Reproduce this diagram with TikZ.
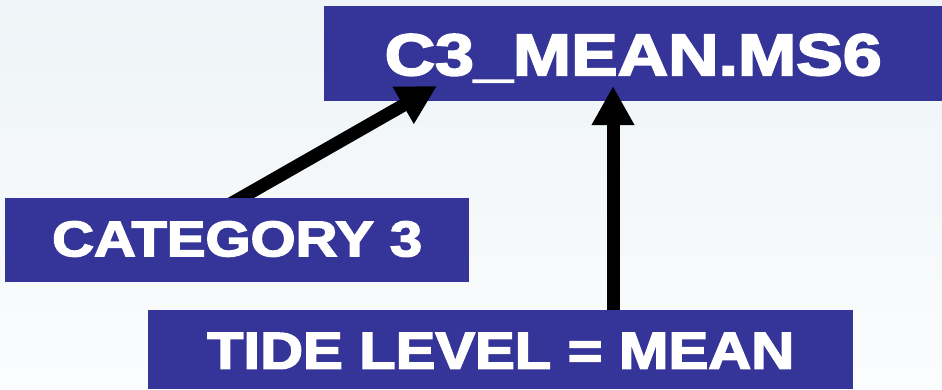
\documentclass[tikz,border=0pt]{standalone}
\usepackage{fontspec}
\setmainfont{Liberation Sans}
\newfontfamily\heavyfont{Liberation Sans Bold}[FakeBold=2.8]
\usetikzlibrary{arrows.meta}
\definecolor{boxblue}{RGB}{53,53,153}
\definecolor{bgtop}{RGB}{238,244,247}
\definecolor{bgbottom}{RGB}{251,252,253}
\pgfdeclarelayer{front}
\pgfsetlayers{main,front}
\begin{document}
\begin{tikzpicture}[x=1pt,y=-1pt,
  labelbox/.style={fill=boxblue, text=white, inner sep=0pt, font=\heavyfont,
                   anchor=north west, align=center},
  fatarrow/.style={draw=black, line width=13pt,
                   -{Triangle[length=39pt,width=40pt]}}]
% page background
\shade[top color=bgtop, bottom color=bgbottom] (0,0) rectangle (942,389);
\useasboundingbox (0,0) rectangle (942,389);

% file name box
\node[labelbox, minimum width=618pt, minimum height=95pt,
      text height=43pt, text depth=0pt] (result) at (324,6)
  {\fontsize{59}{59}\selectfont\resizebox{497pt}{\height}{C3\_MEAN.MS6}};

% input boxes, kept above the arrow tails
\begin{pgfonlayer}{front}
\node[labelbox, minimum width=464pt, minimum height=84pt,
      text height=37pt, text depth=5pt] (cat) at (5,198)
  {\fontsize{50}{50}\selectfont\resizebox{370pt}{\height}{CATEGORY 3}};
\node[labelbox, minimum width=705pt, minimum height=79pt,
      text height=38pt, text depth=0pt] (tide) at (148,310)
  {\fontsize{52}{52}\selectfont\resizebox{587pt}{\height}{TIDE LEVEL = MEAN}};
\end{pgfonlayer}

% arrows into the file name
\coordinate (tailA) at (211,215);
\coordinate (tipA) at (437,86);
\coordinate (tipB) at (613,86);
\draw[fatarrow] (tailA) -- (tipA);
\draw[fatarrow] (tide.north -| tipB) -- (tipB);
\end{tikzpicture}
\end{document}
